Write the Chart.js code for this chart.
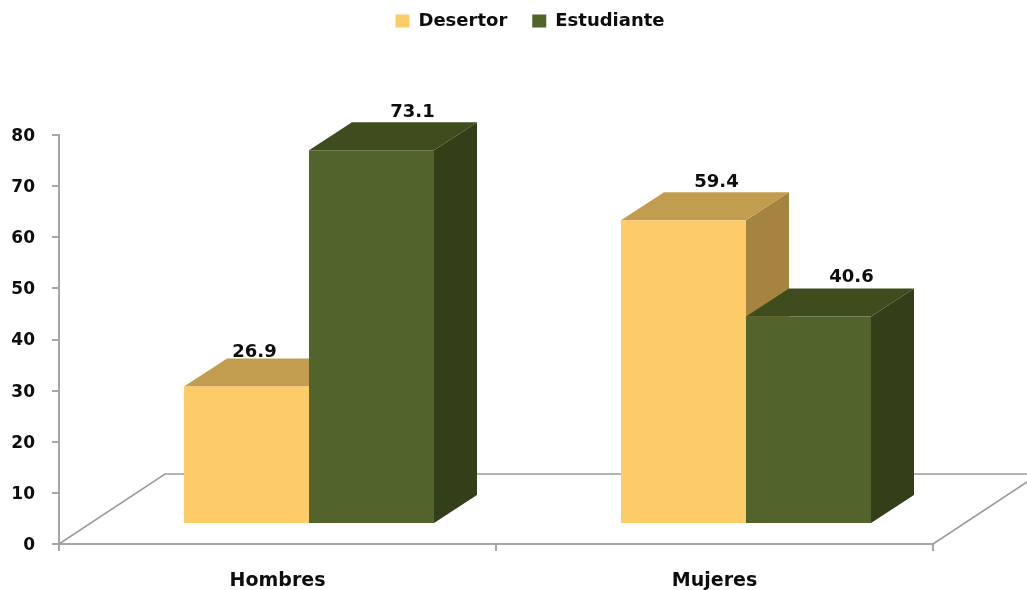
<!DOCTYPE html>
<html>
<head>
<meta charset="utf-8">
<style>html,body{margin:0;padding:0;background:#fff}canvas{display:block}</style>
<script src="https://cdn.jsdelivr.net/npm/chart.js@4"></script>
</head>
<body>
<canvas id="c" width="1027" height="590"></canvas>
<script>
const categories = ['Hombres', 'Mujeres'];
const desertor = [26.9, 59.4];
const estudiante = [73.1, 40.6];
const seriesNames = ['Desertor', 'Estudiante'];
const yTicks = [0, 10, 20, 30, 40, 50, 60, 70, 80];

const FONT = '"DejaVu Sans"';
const FRONT = ['#FDCB67', '#52632B'];
const TOP = ['#C39D4F', '#3E4C1E'];
const SIDE = ['#A58340', '#333F18'];
const AXIS = '#A6A6A6';
const FLOOR = '#9C9C9C';
const SHIFT_X = 31.5, SHIFT_Y = -20;
const DEPTH_X = 43, DEPTH_Y = -28;
const LABEL_NUDGE_X = [[-35, -10], [-2, 0]];
const LABEL_NUDGE_Y = [[-6, -10], [-10, -11]];

function poly(ctx, pts, fill) {
  ctx.beginPath();
  pts.forEach((p, i) => i ? ctx.lineTo(p[0], p[1]) : ctx.moveTo(p[0], p[1]));
  ctx.closePath();
  ctx.fillStyle = fill;
  ctx.fill();
}

const threeD = {
  id: 'threeD',
  afterLayout(chart) {
    const lg = chart.legend;
    const w = lg.width;
    lg.left = 530 - w / 2;
    lg.right = lg.left + w;
    lg.top = 21 - 25 - 9;
    lg.bottom = lg.top + 70;
  },
  beforeDatasetsDraw(chart) {
    const ctx = chart.ctx, a = chart.chartArea;
    ctx.save();
    ctx.strokeStyle = FLOOR;
    ctx.lineWidth = 1.5;
    ctx.beginPath();
    ctx.moveTo(a.left, a.bottom);
    ctx.lineTo(a.left + 106, a.bottom - 70);
    ctx.lineTo(chart.width, a.bottom - 70);
    ctx.moveTo(a.right, a.bottom);
    ctx.lineTo(chart.width, a.bottom - 62);
    ctx.stroke();
    ctx.restore();

    ctx.save();
    ctx.translate(SHIFT_X, SHIFT_Y);
    [0, 1].forEach(d => {
      const meta = chart.getDatasetMeta(d);
      meta.data.forEach(b => {
        const l = b.x - b.width / 2, r = b.x + b.width / 2, t = b.y, bt = b.base;
        poly(ctx, [[r, t], [r + DEPTH_X, t + DEPTH_Y], [r + DEPTH_X, bt + DEPTH_Y], [r, bt]], SIDE[d]);
        poly(ctx, [[l, t], [l + DEPTH_X, t + DEPTH_Y], [r + DEPTH_X, t + DEPTH_Y], [r, t]], TOP[d]);
      });
      meta.controller.draw();
    });
    ctx.restore();
  },
  beforeDatasetDraw() { return false; },
  afterDatasetsDraw(chart) {
    const ctx = chart.ctx;
    ctx.save();
    ctx.font = 'bold 18px ' + FONT;
    ctx.fillStyle = '#0D0D0D';
    ctx.textAlign = 'center';
    ctx.textBaseline = 'middle';
    [0, 1].forEach(d => {
      chart.getDatasetMeta(d).data.forEach((b, i) => {
        const v = chart.data.datasets[d].data[i];
        const x = b.x + SHIFT_X + DEPTH_X + LABEL_NUDGE_X[d][i];
        const y = b.y + SHIFT_Y + DEPTH_Y + LABEL_NUDGE_Y[d][i];
        ctx.fillText(v.toFixed(1), x, y);
      });
    });
    ctx.restore();
  }
};

new Chart(document.getElementById('c'), {
  type: 'bar',
  data: {
    labels: categories,
    datasets: [
      { label: seriesNames[0], data: desertor, backgroundColor: FRONT[0], borderWidth: 0 },
      { label: seriesNames[1], data: estudiante, backgroundColor: FRONT[1], borderWidth: 0 }
    ]
  },
  options: {
    responsive: false,
    animation: false,
    events: [],
    layout: { padding: { top: 105, right: 94, left: 0, bottom: 0 } },
    datasets: { bar: { barPercentage: 1, categoryPercentage: 250 / 437 } },
    plugins: {
      tooltip: { enabled: false },
      legend: {
        position: 'top',
        maxHeight: 30,
        labels: {
          boxWidth: 14, boxHeight: 13, padding: 25,
          color: '#0D0D0D',
          font: { family: FONT, size: 18, weight: 'bold' }
        }
      }
    },
    scales: {
      x: {
        grid: { offset: true, drawOnChartArea: false, drawTicks: true, tickLength: 7, color: AXIS, lineWidth: 2 },
        border: { color: AXIS, width: 2 },
        ticks: { color: '#0D0D0D', padding: 19, maxRotation: 0, font: { family: FONT, size: 19, weight: 'bold' } },
        afterFit(s) { s.height = 46; }
      },
      y: {
        min: 0, max: 80,
        afterBuildTicks(s) { s.ticks = yTicks.map(v => ({ value: v })); },
        grid: { drawOnChartArea: false, drawTicks: true, tickLength: 7, color: AXIS, lineWidth: 2 },
        border: { color: AXIS, width: 2 },
        ticks: { color: '#0D0D0D', padding: 17, labelOffset: 1.5, font: { family: FONT, size: 17, weight: 'bold' } },
        afterFit(s) { s.width = 59; }
      }
    }
  },
  plugins: [threeD]
});
</script>
</body>
</html>
